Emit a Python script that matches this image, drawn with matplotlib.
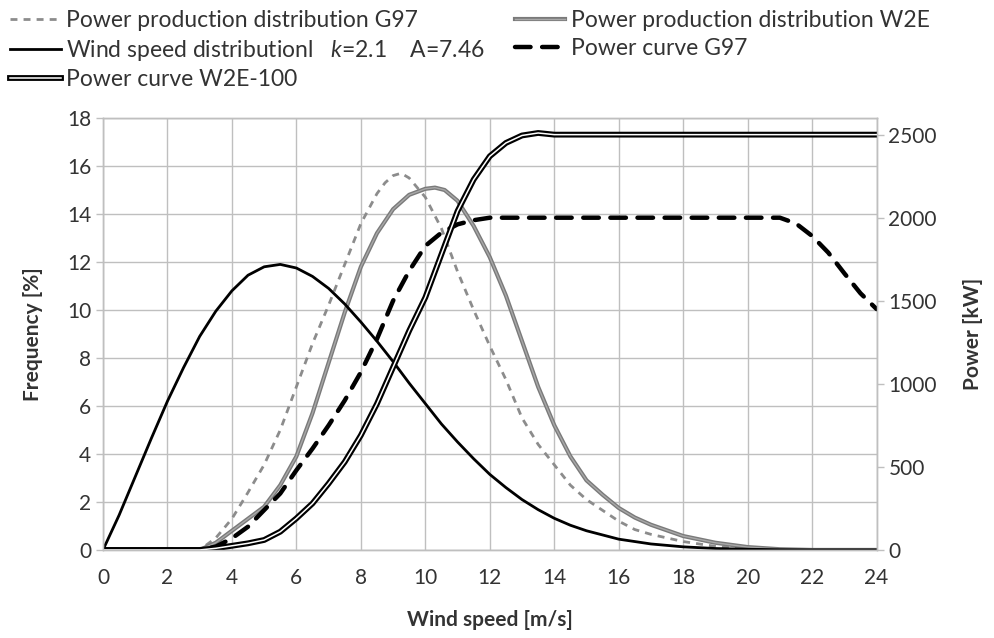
import matplotlib
matplotlib.use('Agg')
import matplotlib.pyplot as plt
import matplotlib.patheffects as pe

# Weibull wind speed distribution, k=2.1, A=7.46 (frequency in %)
wind_x = [0, 0.5, 1, 1.5, 2, 2.5, 3, 3.5, 4, 4.5, 5, 5.5, 6, 6.5, 7, 7.5, 8, 8.5,
          9, 9.5, 10, 10.5, 11, 11.5, 12, 12.5, 13, 13.5, 14, 14.5, 15, 16, 17,
          18, 19, 20, 21, 22, 24]
wind_freq = [0, 1.45, 3.05, 4.65, 6.2, 7.6, 8.9, 9.95, 10.8, 11.45, 11.8, 11.9,
             11.75, 11.4, 10.9, 10.25, 9.5, 8.7, 7.85, 6.95, 6.1, 5.25, 4.5, 3.8,
             3.15, 2.6, 2.1, 1.68, 1.32, 1.03, 0.8, 0.45, 0.25, 0.13, 0.06, 0.03,
             0.01, 0, 0]

# power production distributions (%)
g97_prod_x = [0, 3, 3.5, 4, 4.5, 5, 5.5, 6, 6.5, 7, 7.5, 8, 8.5, 8.75, 9, 9.25,
              9.5, 10, 10.5, 11, 11.5, 12, 12.5, 13, 13.5, 14, 14.5, 15, 15.5,
              16, 16.5, 17, 18, 19, 20, 21, 24]
g97_prod = [0, 0, 0.5, 1.3, 2.4, 3.55, 5.0, 6.8, 8.6, 10.2, 11.9, 13.6, 14.85,
            15.3, 15.6, 15.7, 15.5, 14.7, 13.4, 11.6, 10.0, 8.5, 7.1, 5.5, 4.4,
            3.55, 2.7, 2.1, 1.65, 1.2, 0.85, 0.65, 0.35, 0.15, 0.05, 0, 0]
w2e_prod_x = [0, 3, 3.5, 4, 4.5, 5, 5.5, 6, 6.5, 7, 7.5, 8, 8.5, 9, 9.5, 10,
              10.3, 10.6, 11, 11.5, 12, 12.5, 13, 13.5, 14, 14.5, 15, 15.5, 16,
              16.5, 17, 18, 19, 20, 21, 22, 24]
w2e_prod = [0, 0, 0.3, 0.8, 1.3, 1.8, 2.7, 3.9, 5.7, 7.8, 9.9, 11.8, 13.2, 14.2,
            14.8, 15.05, 15.1, 15.0, 14.55, 13.5, 12.2, 10.6, 8.7, 6.8, 5.2,
            3.9, 2.9, 2.3, 1.75, 1.35, 1.05, 0.58, 0.3, 0.12, 0.03, 0, 0]

# power curves (kW)
g97_x = [0, 3, 3.5, 4, 4.5, 5, 5.5, 6, 6.5, 7, 7.5, 8, 8.5, 9, 9.5, 10, 10.5,
         11, 11.5, 12, 21, 21.5, 22, 22.5, 23, 23.5, 24]
g97_kw = [0, 0, 20, 70, 140, 240, 340, 480, 610, 750, 900, 1070, 1270, 1500,
          1680, 1830, 1910, 1960, 1985, 2000, 2000, 1965, 1890, 1790, 1665,
          1545, 1450]
w2e_x = [0, 3, 3.5, 4, 4.5, 5, 5.5, 6, 6.5, 7, 7.5, 8, 8.5, 9, 9.5, 10, 10.5,
         11, 11.5, 12, 12.5, 13, 13.5, 14, 24]
w2e_kw = [0, 0, 10, 25, 40, 60, 110, 190, 280, 400, 530, 690, 880, 1100, 1320,
          1520, 1780, 2040, 2230, 2370, 2450, 2495, 2510, 2500, 2500]

x_ticks = list(range(0, 25, 2))
freq_ticks = list(range(0, 19, 2))
power_ticks = [0, 500, 1000, 1500, 2000, 2500]

plt.rcParams['font.family'] = ['Lato', 'DejaVu Sans']
plt.rcParams['mathtext.fontset'] = 'custom'
plt.rcParams['mathtext.it'] = 'Lato:italic'
plt.rcParams['mathtext.rm'] = 'Lato'

TXT = '#333333'
GRID = '#bfbfbf'


def make_chart():
    fig = plt.figure(figsize=(9.95, 6.38), dpi=100)
    ax = fig.add_axes([0.1035, 0.138, 0.7775, 0.677])
    ax2 = ax.twinx()

    # left axis series
    l1, = ax.plot(g97_prod_x, g97_prod, color='#8c8c8c', lw=2.0, dashes=(2.5, 2.2),
                  label='Power production distribution G97')
    l2, = ax.plot(w2e_prod_x, w2e_prod, color='#a8a8a8', lw=1.0,
                  path_effects=[pe.Stroke(linewidth=3.0, foreground='#7a7a7a'), pe.Normal()],
                  label='Power production distribution W2E')
    l3, = ax.plot(wind_x, wind_freq, color='black', lw=2.0,
                  label='Wind speed distributionl   $k$=2.1    A=7.46')

    # right axis series
    l4, = ax2.plot(g97_x, g97_kw, color='black', lw=3.2, dashes=(3.5, 2.6),
                   dash_capstyle='round', label='Power curve G97')
    l5, = ax2.plot(w2e_x, w2e_kw, color='white', lw=1.1,
                   path_effects=[pe.Stroke(linewidth=4.2, foreground='black'), pe.Normal()],
                   label='Power curve W2E-100')

    ax.set_xlim(0, 24)
    ax.set_ylim(0, 18)
    ax2.set_ylim(0, 2600)
    ax.set_xticks(x_ticks)
    ax.set_yticks(freq_ticks)
    ax2.set_yticks(power_ticks)

    ax.grid(True, color=GRID, lw=1.0)
    ax.set_axisbelow(True)
    for a in (ax, ax2):
        for s in a.spines.values():
            s.set_color(GRID)
            s.set_linewidth(1.0)
        a.tick_params(colors=GRID, labelcolor=TXT, labelsize=15, length=5, width=1.0)
    ax.tick_params(axis='x', length=0, pad=13)

    ax.set_xlabel('Wind speed [m/s]', fontsize=15, fontweight='bold', color=TXT, labelpad=16)
    ax.set_ylabel('Frequency [%]', fontsize=15, fontweight='bold', color=TXT, labelpad=17)
    ax2.set_ylabel('Power [kW]', fontsize=15, fontweight='bold', color=TXT, labelpad=19)

    handles = [l1, l3, l5, l2, l4]
    leg = fig.legend(handles=handles, labels=[h.get_label() for h in handles],
                     loc='upper left', bbox_to_anchor=(0.0, 1.0), ncol=2,
                     frameon=False, fontsize=16.5, handlelength=2.2,
                     handletextpad=0.25, columnspacing=1.3, labelspacing=0.28,
                     borderaxespad=0.05)
    for t in leg.get_texts():
        t.set_color(TXT)

    fig.savefig('out.png', dpi=100)
    plt.close(fig)


if __name__ == '__main__':
    make_chart()
